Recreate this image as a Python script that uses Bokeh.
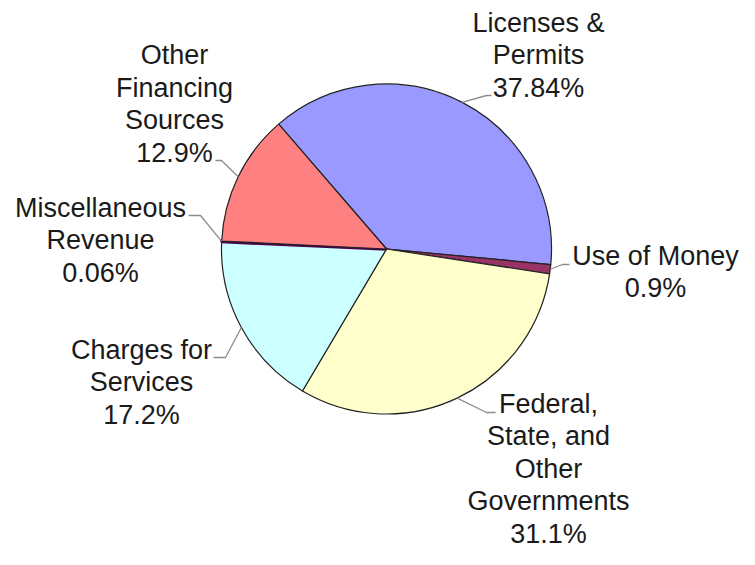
import numpy as np
from bokeh.plotting import figure
from bokeh.models import ColumnDataSource, Range1d
from bokeh.core.properties import value
from bokeh.embed import file_html
from bokeh.resources import INLINE

# ---- data ----
categories = ["Licenses & Permits", "Use of Money",
              "Federal, State, and Other Governments", "Charges for Services",
              "Miscellaneous Revenue", "Other Financing Sources"]
label_lines = [["Licenses &", "Permits"], ["Use of Money"],
               ["Federal,", "State, and", "Other", "Governments"],
               ["Charges for", "Services"], ["Miscellaneous", "Revenue"],
               ["Other", "Financing", "Sources"]]
values = [37.84, 0.9, 31.1, 17.2, 0.06, 12.9]
colors = ["#9999FF", "#993366", "#FFFFCC", "#CCFFFF", "#660066", "#FF8080"]

# ---- layout ----
W, H = 739, 549
def Y(py):
    return H - py

cx, cy, r = 386, Y(248.5), 165
start_deg = 130.8
line_gap = 32.5
# label anchor: (center x, first baseline in picture px)
anchors = [(538, 30), (655, 263), (548, 411), (141, 357), (100, 215), (174, 62.5)]
# leader elbow and end (picture px)
elbows = [((486, 95), (491, 95)), ((562, 264), (569, 264)),
          ((486, 412), (495, 412)), ((225, 357), (213, 357)),
          ((200, 215), (188, 215)), ((221, 160), (215, 160))]

fr = np.array(values) / sum(values)
cum = np.concatenate([[0], np.cumsum(fr)[:-1]])
starts = np.deg2rad(start_deg - 360 * cum)
ends = np.deg2rad(start_deg - 360 * (cum + fr))
mids = (starts + ends) / 2

wsrc = ColumnDataSource(dict(
    cat=categories, start=starts, end=ends, color=colors,
    lc=["#222222", "#222222", "#222222", "#222222", "#4a004a", "#222222"],
    lw=[1.2, 1.2, 1.2, 1.2, 3.4, 1.2]))

p = figure(width=W, height=H, x_range=Range1d(0, W), y_range=Range1d(0, H),
           x_axis_type=None, y_axis_type=None,
           output_backend="svg", toolbar_location=None, min_border=0)
p.grid.visible = False
p.outline_line_color = None
p.background_fill_color = "white"

p.wedge(x=cx, y=cy, radius=r, start_angle="start", end_angle="end",
        direction="clock", fill_color="color", line_color="lc",
        line_width="lw", source=wsrc)

xs, ys = [], []
for m, (e1, e2) in zip(mids, elbows):
    ex = cx + r * np.cos(m)
    ey = cy + r * np.sin(m)
    xs.append([ex, e1[0], e2[0]])
    ys.append([ey, Y(e1[1]), Y(e2[1])])
p.multi_line(xs=xs, ys=ys, line_color="#8c8c8c", line_width=1.3)

tx, ty, tt = [], [], []
for lines, v, (ax, ay) in zip(label_lines, values, anchors):
    allines = lines + [f"{v:g}%"]
    for i, s in enumerate(allines):
        tx.append(ax)
        ty.append(Y(ay + i * line_gap))
        tt.append(s)
p.text(x=tx, y=ty, text=tt, text_align="center", text_baseline="alphabetic",
       y_offset=-8,
       text_font=value("Liberation Sans"), text_font_size="27px",
       text_color="#1a1a1a")

open("out.html", "w").write(file_html(p, INLINE))
